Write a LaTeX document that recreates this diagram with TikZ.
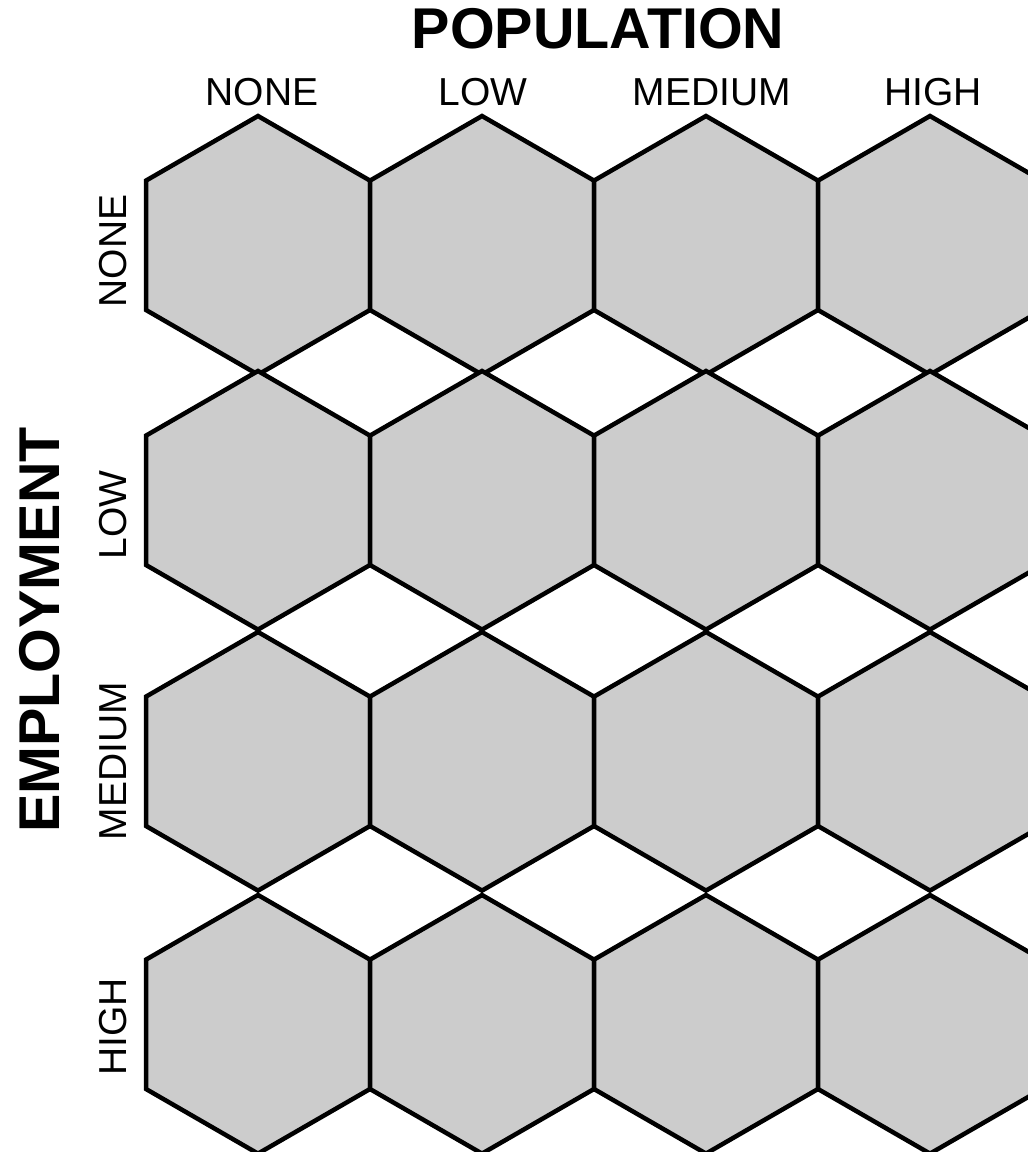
\documentclass[tikz,border=0pt]{standalone}
\usepackage{fontspec}
\setmainfont{Liberation Sans}
\usetikzlibrary{positioning}
\definecolor{HexGray}{HTML}{CCCCCC}
\tikzset{
  hexcell/.style={fill=HexGray,draw=black,line width=4.5pt,line join=miter},
  axistitle/.style={inner sep=0pt,font=\fontsize{57.5}{60}\selectfont\bfseries},
  levellabel/.style={inner sep=0pt,font=\fontsize{39}{42}\selectfont}
}

\begin{document}
\begin{tikzpicture}[x=1pt,y=-1pt]
    \useasboundingbox (0,0) rectangle (1028,1152);
    \begin{scope}
      \clip (0,0) rectangle (1028,1152);
      \foreach \cy in {245.3,500.3,761.3,1024.3}{
        \foreach \cx in {258,482,706,930}{
          \draw[hexcell] (\cx,\cy-129.3) -- (\cx+112,\cy-64.7) -- (\cx+112,\cy+64.7)
            -- (\cx,\cy+129.3) -- (\cx-112,\cy+64.7) -- (\cx-112,\cy-64.7) -- cycle;
        }
      }
    \end{scope}
    \node[axistitle] (poptitle) at (598,29) {POPULATION};
    \node[axistitle,rotate=90] (emptitle) at (40,630) {EMPLOYMENT};
    \foreach \x/\n/\t in {262/popnone/NONE,483/poplow/LOW,712/popmedium/MEDIUM,933/pophigh/HIGH}{
      \node[levellabel] (\n) at (\x,92.5) {\t};
    }
    \foreach \y/\n/\t in {251/empnone/NONE,515/emplow/LOW,761/empmedium/MEDIUM,1027/emphigh/HIGH}{
      \node[levellabel,rotate=90] (\n) at (113,\y) {\t};
    }
  \end{tikzpicture}
\end{document}
